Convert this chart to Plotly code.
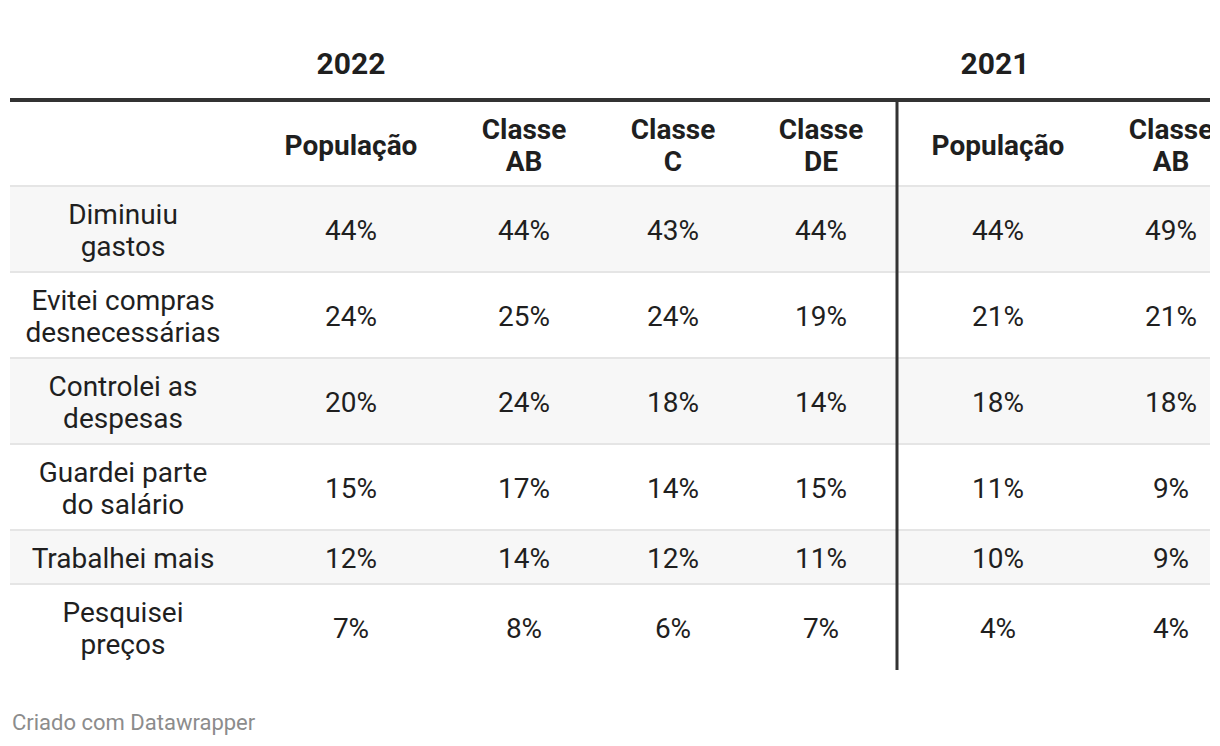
import plotly.graph_objects as go

# ---- data ----
row_labels = [
    "Diminuiu<br>gastos",
    "Evitei compras<br>desnecessárias",
    "Controlei as<br>despesas",
    "Guardei parte<br>do salário",
    "Trabalhei mais",
    "Pesquisei<br>preços",
]
col_headers = ["População", "Classe<br>AB", "Classe<br>C", "Classe<br>DE", "População", "Classe<br>AB"]
group_headers = ["2022", "2021"]

pop_2022 = [44, 24, 20, 15, 12, 7]
ab_2022 = [44, 25, 24, 17, 14, 8]
c_2022 = [43, 24, 18, 14, 12, 6]
de_2022 = [44, 19, 14, 15, 11, 7]
pop_2021 = [44, 21, 18, 11, 10, 4]
ab_2021 = [49, 21, 18, 9, 9, 4]
columns = [pop_2022, ab_2022, c_2022, de_2022, pop_2021, ab_2021]
footer = "Criado com Datawrapper"

# ---- layout constants (page pixels) ----
PAGE_W, PAGE_H = 1220, 746
OFF = 8  # default page body margin
W, H = PAGE_W - OFF, PAGE_H - OFF
LEFT, RIGHT = 10, 1210
label_x = 123
col_x = [351, 524, 673, 821, 998, 1171]
group_x = [351, 995]
group_y = 66
top_line_y = 100
header_bottom = 186
row_bounds = [186, 272, 358, 444, 530, 584, 670]
divider_x = 897
LINE_H = 32
FONT = "Roboto"
TXT = "#1f1f1f"

fig = go.Figure()
shapes = []

# row bands & separators
for i in range(len(row_labels)):
    y0, y1 = row_bounds[i], row_bounds[i + 1]
    if i % 2 == 0:
        shapes.append(dict(type="rect", xref="x", yref="y", x0=LEFT, x1=RIGHT, y0=y0, y1=y1,
                           fillcolor="#f7f7f7", line=dict(width=0), layer="below"))
    shapes.append(dict(type="line", xref="x", yref="y", x0=LEFT, x1=RIGHT, y0=y0, y1=y0,
                       line=dict(color="#e5e5e5", width=2), layer="below"))

# thick top line
shapes.append(dict(type="line", xref="x", yref="y", x0=LEFT, x1=RIGHT + 20, y0=top_line_y, y1=top_line_y,
                   line=dict(color="#333333", width=4)))
# vertical divider
shapes.append(dict(type="line", xref="x", yref="y", x0=divider_x, x1=divider_x, y0=top_line_y, y1=row_bounds[-1],
                   line=dict(color="#333333", width=3)))


def lines_pos(text, cx, cy):
    parts = text.split("<br>")
    n = len(parts)
    xs, ys, ts = [], [], []
    for k, p in enumerate(parts):
        xs.append(cx)
        ys.append(cy + (k - (n - 1) / 2) * LINE_H)
        ts.append(p)
    return xs, ys, ts


# body text
bx, by, bt = [], [], []
for i, lab in enumerate(row_labels):
    cy = (row_bounds[i] + row_bounds[i + 1]) / 2 + 4
    xs, ys, ts = lines_pos(lab, label_x, cy)
    bx += xs; by += ys; bt += ts
    for j, col in enumerate(columns):
        bx.append(col_x[j]); by.append(cy); bt.append(f"{col[i]}%")

fig.add_trace(go.Scatter(x=bx, y=by, text=bt, mode="text", textposition="middle center",
                         textfont=dict(family=FONT, size=28, color=TXT), hoverinfo="skip",
                         showlegend=False, cliponaxis=True))

# header text
hx, hy, ht = [], [], []
hcy = (top_line_y + header_bottom) / 2 + 5
for j, h in enumerate(col_headers):
    xs, ys, ts = lines_pos(h, col_x[j], hcy)
    hx += xs; hy += ys; ht += ts

fig.add_trace(go.Scatter(x=hx, y=hy, text=ht, mode="text", textposition="middle center",
                         textfont=dict(family=FONT, size=28, color=TXT, weight=700), hoverinfo="skip",
                         showlegend=False, cliponaxis=True))

fig.add_trace(go.Scatter(x=group_x, y=[group_y] * len(group_x), text=group_headers, mode="text",
                         textposition="middle center",
                         textfont=dict(family=FONT, size=30, color=TXT, weight=700), hoverinfo="skip",
                         showlegend=False, cliponaxis=True))

fig.add_annotation(x=LEFT, y=722, xref="x", yref="y", text=footer, showarrow=False,
                   xanchor="left", yanchor="middle",
                   font=dict(family=FONT, size=22, color="#8c8c8c"))

fig.update_layout(
    width=W, height=H, margin=dict(l=0, r=OFF + W - RIGHT, t=0, b=0),
    paper_bgcolor="white", plot_bgcolor="white", shapes=shapes,
    xaxis=dict(range=[OFF, RIGHT], visible=False, fixedrange=True),
    yaxis=dict(range=[PAGE_H, OFF], visible=False, fixedrange=True),
)

fig.write_html("out.html")
